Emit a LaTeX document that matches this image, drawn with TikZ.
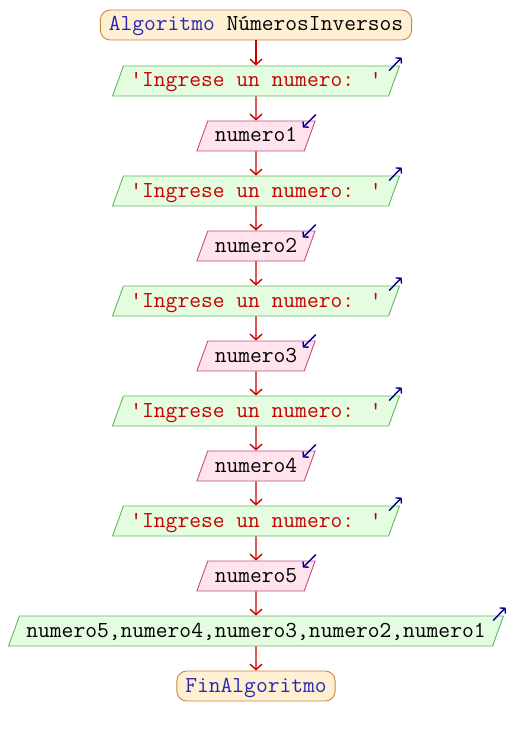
\documentclass[tikz,border=0pt]{standalone}
\usepackage{fontspec}
\usetikzlibrary{shapes.geometric,arrows.meta}
\definecolor{termfill}{RGB}{255,240,212}
\definecolor{termline}{RGB}{200,135,60}
\definecolor{outfill}{RGB}{228,252,224}
\definecolor{outline}{RGB}{95,185,95}
\definecolor{infill}{RGB}{255,228,238}
\definecolor{inline}{RGB}{195,80,130}
\definecolor{flowred}{RGB}{200,0,0}
\definecolor{kwblue}{RGB}{40,40,175}
\definecolor{iconblue}{RGB}{0,0,140}
\begin{document}
\begin{tikzpicture}[x=1pt,y=-1pt,
  every node/.style={font=\ttfamily\fontsize{22.86}{26}\selectfont,text height=14pt,text depth=2pt},
  term/.style={draw=termline,line width=0.9pt,fill=termfill,rounded corners=10pt,inner xsep=8.5pt,inner ysep=7pt},
  outbox/.style={trapezium,trapezium left angle=70,trapezium right angle=110,draw=outline,line width=0.9pt,fill=outfill,inner xsep=7pt,inner ysep=7pt,text=flowred},
  inbox/.style={trapezium,trapezium left angle=70,trapezium right angle=110,draw=inline,line width=0.9pt,fill=infill,inner xsep=7pt,inner ysep=7pt},
  flow/.style={draw=flowred,line width=1.4pt,-{Straight Barb[length=5.5pt,width=12pt]}},
  outmark/.style={draw=iconblue,line width=1.4pt,-{Straight Barb[length=3.5pt,width=8pt]}},
  inmark/.style={draw=iconblue,line width=1.4pt,-{Straight Barb[length=3.5pt,width=8pt]}}]
\useasboundingbox (0,0) rectangle (512,735);
\node[term] (start) at (256,25) {\textcolor{kwblue}{Algoritmo} NúmerosInversos};
\node[outbox] (o1) at (256,81) {'Ingrese un numero: '};
\node[inbox] (i1) at (256,136) {numero1};
\node[outbox] (o2) at (256,191) {'Ingrese un numero: '};
\node[inbox] (i2) at (256,246) {numero2};
\node[outbox] (o3) at (256,301) {'Ingrese un numero: '};
\node[inbox] (i3) at (256,356) {numero3};
\node[outbox] (o4) at (256,411) {'Ingrese un numero: '};
\node[inbox] (i4) at (256,466) {numero4};
\node[outbox] (o5) at (256,521) {'Ingrese un numero: '};
\node[inbox] (i5) at (256,576) {numero5};
\node[outbox,text=black] (res) at (256,631) {numero5,numero4,numero3,numero2,numero1};
\node[term,text=kwblue] (fin) at (256,686) {FinAlgoritmo};
% connectors
\draw[flow] (start) -- (o1);
\draw[flow] (o1) -- (i1);
\draw[flow] (i1) -- (o2);
\draw[flow] (o2) -- (i2);
\draw[flow] (i2) -- (o3);
\draw[flow] (o3) -- (i3);
\draw[flow] (i3) -- (o4);
\draw[flow] (o4) -- (i4);
\draw[flow] (i4) -- (o5);
\draw[flow] (o5) -- (i5);
\draw[flow] (i5) -- (res);
\draw[flow] (res) -- (fin);
% small marks
\draw[outmark] ([shift={(-11,5)}]o1.top right corner) -- ++(12.5,-13);
\draw[outmark] ([shift={(-11,5)}]o2.top right corner) -- ++(12.5,-13);
\draw[outmark] ([shift={(-11,5)}]o3.top right corner) -- ++(12.5,-13);
\draw[outmark] ([shift={(-11,5)}]o4.top right corner) -- ++(12.5,-13);
\draw[outmark] ([shift={(-11,5)}]o5.top right corner) -- ++(12.5,-13);
\draw[outmark] ([shift={(-11,5)}]res.top right corner) -- ++(12.5,-13);
\draw[inmark] ([shift={(0,-6)}]i1.top right corner) -- ++(-13,13);
\draw[inmark] ([shift={(0,-6)}]i2.top right corner) -- ++(-13,13);
\draw[inmark] ([shift={(0,-6)}]i3.top right corner) -- ++(-13,13);
\draw[inmark] ([shift={(0,-6)}]i4.top right corner) -- ++(-13,13);
\draw[inmark] ([shift={(0,-6)}]i5.top right corner) -- ++(-13,13);
\end{tikzpicture}
\end{document}
